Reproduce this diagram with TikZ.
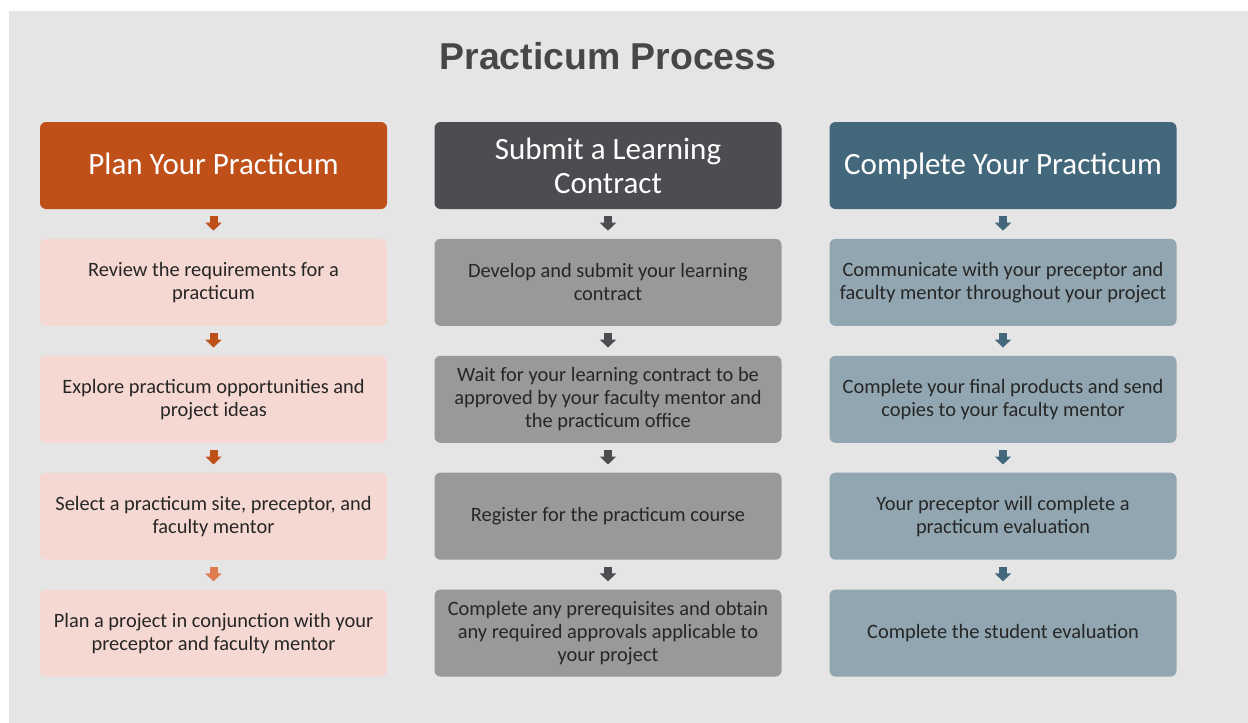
\documentclass[tikz,border=0pt]{standalone}
\usepackage{fontspec}
\setmainfont{Carlito}
\newfontfamily\titlefont{Liberation Sans}
\usetikzlibrary{arrows.meta, positioning}
\definecolor{bggray}{RGB}{229, 229, 229}
\definecolor{titlegray}{RGB}{71, 71, 71}
\definecolor{textdark}{RGB}{38, 38, 38}
\definecolor{planorange}{RGB}{191, 80, 25}
\definecolor{planlight}{RGB}{224, 123, 79}
\definecolor{planpink}{RGB}{245, 216, 209}
\definecolor{submitdark}{RGB}{76, 77, 81}
\definecolor{submitgray}{RGB}{153, 152, 154}
\definecolor{completeblue}{RGB}{68, 104, 123}
\definecolor{completegray}{RGB}{145, 166, 176}

\begin{document}
\begin{tikzpicture}[x=1pt, y=-1pt,
    box/.style={rounded corners=6pt, minimum width=347pt, minimum height=87pt,
        align=center, inner sep=0pt},
    header/.style={box, text=white, font=\fontsize{31}{34}\selectfont},
    stepbox/.style={box, text=textdark, font=\fontsize{20.4}{23}\selectfont},
    flow/.style={line width=8pt, shorten <=7pt, shorten >=8pt,
        -{Triangle[width=16pt, length=8pt]}},
    node distance=29.5pt]
    \useasboundingbox (0, 0) rectangle (1248, 723);
    % background
    \fill[bggray] (9, 11) rectangle (1248, 723);

    % title
    \node[anchor=base, text=titlegray, font=\titlefont\bfseries\fontsize{37.4}{40}\selectfont]
        (title) at (608, 69) {Practicum Process};

    % column 1: plan
    \node[header, fill=planorange, text depth=4pt] (plan) at (213.5, 165.5) {Plan Your Practicum};
    \node[stepbox, fill=planpink, below=of plan] (p1) {Review the requirements for a\\practicum};
    \node[stepbox, fill=planpink, below=of p1] (p2) {Explore practicum opportunities and\\project ideas};
    \node[stepbox, fill=planpink, below=of p2] (p3) {Select a practicum site, preceptor, and\\faculty mentor};
    \node[stepbox, fill=planpink, below=of p3] (p4) {Plan a project in conjunction with your\\preceptor and faculty mentor};

    % column 2: learning contract
    \node[header, fill=submitdark] (submit) at (608, 165.5) {Submit a Learning\\Contract};
    \node[stepbox, fill=submitgray, below=of submit] (s1) {Develop and submit your learning\\contract};
    \node[stepbox, fill=submitgray, below=of s1] (s2) {Wait for your learning contract to be\\approved by your faculty mentor and\\the practicum office};
    \node[stepbox, fill=submitgray, below=of s2] (s3) {Register for the practicum course};
    \node[stepbox, fill=submitgray, below=of s3] (s4) {Complete any prerequisites and obtain\\any required approvals applicable to\\your project};

    % column 3: complete
    \node[header, fill=completeblue, text depth=4pt] (complete) at (1003, 165.5) {Complete Your Practicum};
    \node[stepbox, fill=completegray, below=of complete] (c1) {Communicate with your preceptor and\\faculty mentor throughout your project};
    \node[stepbox, fill=completegray, below=of c1] (c2) {Complete your final products and send\\copies to your faculty mentor};
    \node[stepbox, fill=completegray, below=of c2] (c3) {Your preceptor will complete a\\practicum evaluation};
    \node[stepbox, fill=completegray, below=of c3] (c4) {Complete the student evaluation};

    % arrows between the steps
    \foreach \a/\b in {plan/p1, p1/p2, p2/p3}
        \draw[flow, planorange] (\a) -- (\b);
    \draw[flow, planlight] (p3) -- (p4);
    \foreach \a/\b in {submit/s1, s1/s2, s2/s3, s3/s4}
        \draw[flow, submitdark] (\a) -- (\b);
    \foreach \a/\b in {complete/c1, c1/c2, c2/c3, c3/c4}
        \draw[flow, completeblue] (\a) -- (\b);
\end{tikzpicture}
\end{document}
